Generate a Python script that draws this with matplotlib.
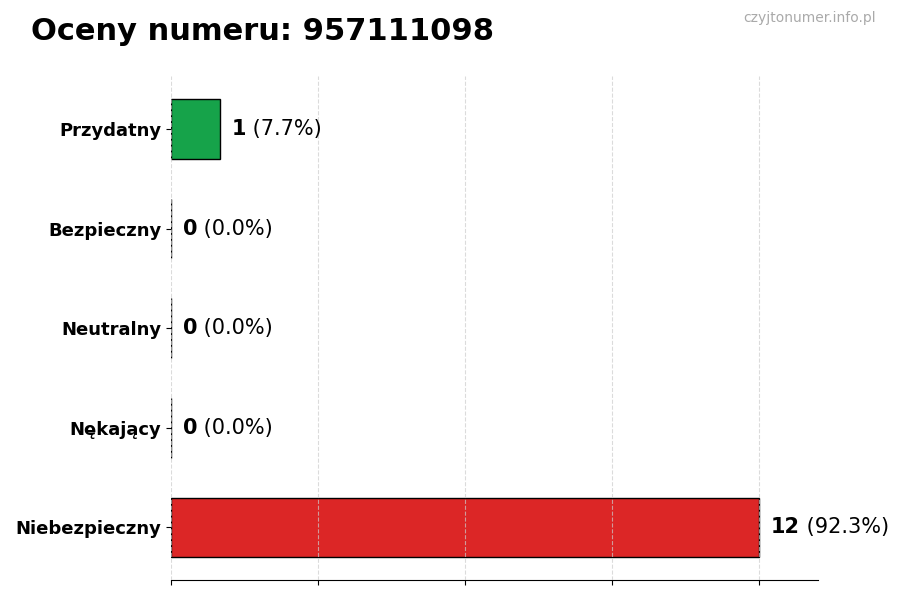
import matplotlib
matplotlib.use("Agg")
import matplotlib.pyplot as plt

# data (bottom to top)
categories = ["Niebezpieczny", "Nękający", "Neutralny", "Bezpieczny", "Przydatny"]
counts = [12, 0, 0, 0, 1]
colors = ["#dc2626", "#9ca3af", "#6b7280", "#3b82f6", "#16a34a"]
total = sum(counts)

fig, ax = plt.subplots(figsize=(9, 6), dpi=100)
fig.subplots_adjust(left=0.19, right=0.909, top=0.873, bottom=0.033)

ax.barh(categories, counts, height=0.6, color=colors, edgecolor="black", linewidth=1, zorder=2)

ax.set_xlim(0, max(counts) * 1.1)
ax.set_xticks([0, 3, 6, 9, 12])
ax.set_xticklabels([])
ax.grid(axis="x", linestyle="--", color="#cccccc", alpha=0.7, zorder=3)
ax.set_axisbelow(False)
for s in ["top", "right", "left"]:
    ax.spines[s].set_visible(False)
ax.tick_params(axis="y", labelsize=13)
for lab in ax.get_yticklabels():
    lab.set_fontweight("bold")

offset = max(counts) * 0.02
for i, c in enumerate(counts):
    t = ax.text(c + offset, i, str(c), fontsize=15, fontweight="bold", va="center", ha="left")
    ax.annotate(f" ({c / total * 100:.1f}%)", xy=(1, 0.5), xycoords=t,
                va="center", ha="left", fontsize=15)

fig.text(0.034, 0.947, "Oceny numeru: 957111098", fontsize=22, fontweight="bold", va="center")
fig.text(0.973, 0.97, "czyjtonumer.info.pl", fontsize=10, color="#aaaaaa", ha="right", va="center")

fig.savefig("out.png", dpi=100)
